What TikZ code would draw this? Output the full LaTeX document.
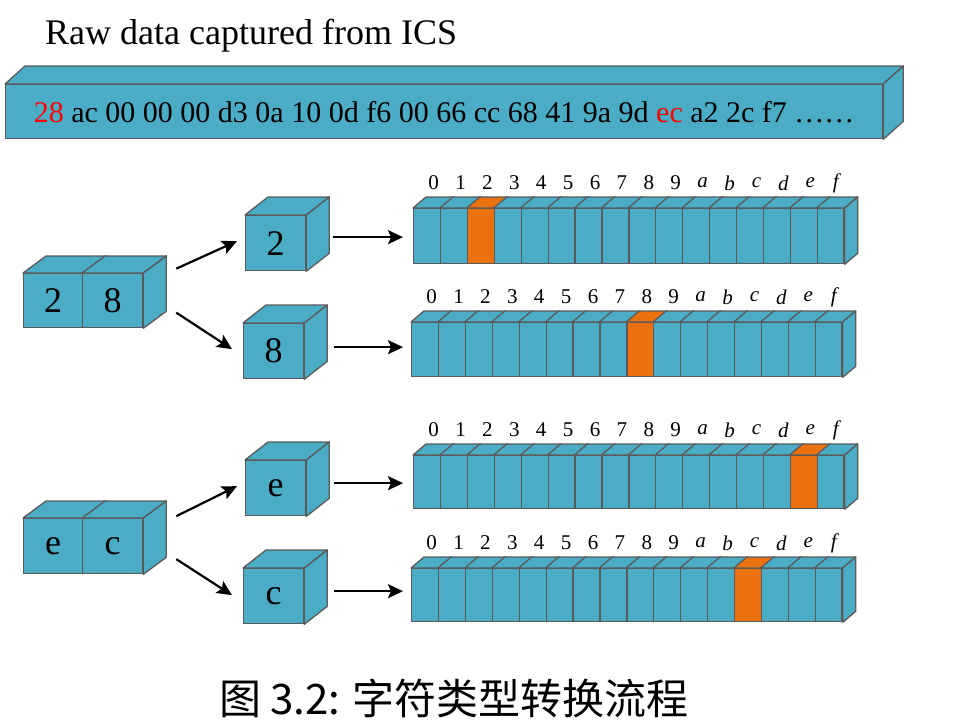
\documentclass[tikz,border=0pt]{standalone}
\usepackage{fontspec}
\setmainfont{Liberation Serif}
\newfontfamily\cjk{Noto Sans CJK SC}
\usetikzlibrary{arrows.meta,calc}
\definecolor{boxfill}{RGB}{75,172,198}
\definecolor{hotfill}{RGB}{234,113,14}
\definecolor{edgegray}{RGB}{90,90,90}
\tikzset{
  faceline/.style={draw=edgegray,line width=1.3pt,line join=round},
  cell/.style={faceline,anchor=north west,minimum width=26.9pt,minimum height=#1,inner sep=0pt},
  cubebox/.style={faceline,fill=boxfill,anchor=north west,minimum width=60pt,minimum height=55pt,inner sep=0pt,font=\fontsize{36}{40}\selectfont},
  lbl/.style={inner sep=0pt,font=\fontsize{21}{23}\selectfont},
  arr/.style={-{Stealth[length=15pt,width=14pt,inset=3pt]},line width=2.2pt,black},
}
\newcommand\topface[4]{\draw[faceline,fill=#4] (#1.north west) -- ++(#2,-#3) -- ($(#1.north east)+(#2,-#3)$) -- (#1.north east) -- cycle;}
\newcommand\sideface[4]{\draw[faceline,fill=#4] (#1.north east) -- ++(#2,-#3) -- ($(#1.south east)+(#2,-#3)$) -- (#1.south east) -- cycle;}
\newcommand\stripcells[5]{% id, x, y, height, hot index
  \foreach \i/\t in {0/0,1/1,2/2,3/3,4/4,5/5,6/6,7/7,8/8,9/9,10/\textit{a},11/\textit{b},12/\textit{c},13/\textit{d},14/\textit{e},15/\textit{f}}{
    \pgfmathsetmacro\xx{#2+\i*26.9}
    \ifnum\i=#5 \def\cf{hotfill}\else\def\cf{boxfill}\fi
    \node[cell=#4,fill=\cf] (#1c\i) at (\xx,#3) {};
    \topface{#1c\i}{13}{11}{\cf}
    \node[lbl] (#1l\i) at ($(#1c\i.north)+(6.5,-25)$) {\t};
  }
  \sideface{#1c15}{13}{11}{boxfill}
}
\begin{document}
\begin{tikzpicture}[x=1pt,y=-1pt]
\useasboundingbox (0,0) rectangle (971,720);

% title
\node[anchor=west,inner sep=0pt,font=\fontsize{36}{40}\selectfont] (title) at (45,36) {Raw data captured from ICS};

% raw data bar
\node[faceline,fill=boxfill,anchor=north west,minimum width=877pt,minimum height=54pt,inner sep=0pt,font=\fontsize{30}{32}\selectfont] (bar) at (5,84)
  {\textcolor{red}{28} ac 00 00 00 d3 0a 10 0d f6 00 66 cc 68 41 9a 9d \textcolor{red}{ec} a2 2c f7 \ldots\ldots};
\topface{bar}{20}{18}{boxfill}
\sideface{bar}{20}{18}{boxfill}

% pair 2 8
\node[cubebox,minimum width=59pt,minimum height=54pt] (pa) at (23,273) {2};
\node[cubebox,minimum width=60pt,minimum height=54pt] (pb) at (82,273) {8};
\topface{pa}{23}{17}{boxfill}
\topface{pb}{23}{17}{boxfill}
\sideface{pb}{23}{17}{boxfill}

% pair e c
\node[cubebox,minimum width=59pt] (qa) at (23,518) {e};
\node[cubebox] (qb) at (82,518) {c};
\topface{qa}{23}{17}{boxfill}
\topface{qb}{23}{17}{boxfill}
\sideface{qb}{23}{17}{boxfill}

% single cubes
\node[cubebox] (c2) at (245,215) {2};
\node[cubebox] (c8) at (243,323) {8};
\node[cubebox] (ce) at (245,460) {e};
\node[cubebox] (cc) at (243,568) {c};
\foreach \n in {c2,c8,ce,cc}{\topface{\n}{23}{18}{boxfill}\sideface{\n}{23}{18}{boxfill}}

% strips
\stripcells{sa}{413}{208}{55pt}{2}
\stripcells{sb}{411}{322}{54pt}{8}
\stripcells{sc}{413}{455}{53pt}{14}
\stripcells{sd}{411}{568}{53pt}{12}

% arrows
\draw[arr] ($(pb.east)+(33,-32)$) -- ($(c2.west)+(-8,-2)$);
\draw[arr] ($(pb.east)+(33,12)$) -- ($(c8.west)+(-11,-2)$);
\draw[arr] ($(qb.east)+(33,-30)$) -- ($(ce.west)+(-8,-2)$);
\draw[arr] ($(qb.east)+(33,13)$) -- ($(cc.west)+(-11,-1)$);

\coordinate (h1) at ($(c2.east)+(27,-6)$);
\coordinate (h2) at ($(c8.east)+(30,-4)$);
\coordinate (h3) at ($(ce.east)+(28,-5)$);
\coordinate (h4) at ($(cc.east)+(30,-5)$);
\draw[arr] (h1) -- (h1 -| {$(sac0.west)+(-10,0)$});
\draw[arr] (h2) -- (h2 -| {$(sbc0.west)+(-8,0)$});
\draw[arr] (h3) -- (h3 -| {$(scc0.west)+(-10,0)$});
\draw[arr] (h4) -- (h4 -| {$(sdc0.west)+(-8,0)$});

% caption
\node[inner sep=0pt,font=\cjk\fontsize{42}{46}\selectfont] (cap) at (454,698) {图 3.2: 字符类型转换流程};
\end{tikzpicture}
\end{document}
